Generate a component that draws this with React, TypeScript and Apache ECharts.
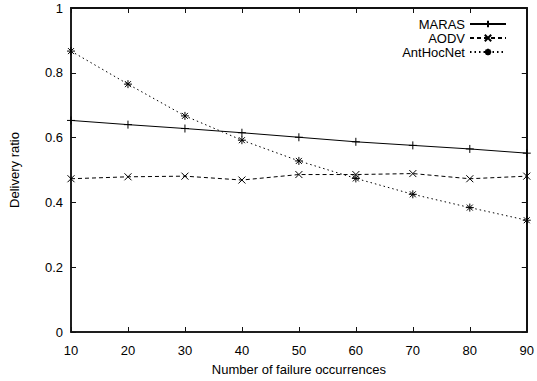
import React, { useEffect, useRef } from "react";
import * as echarts from "echarts";

const xValues = [10, 20, 30, 40, 50, 60, 70, 80, 90];
const marasValues = [0.653, 0.640, 0.628, 0.615, 0.601, 0.587, 0.576, 0.565, 0.552];
const aodvValues = [0.473, 0.479, 0.481, 0.469, 0.486, 0.486, 0.489, 0.473, 0.481];
const antHocNetValues = [0.867, 0.765, 0.667, 0.592, 0.528, 0.474, 0.425, 0.384, 0.345];
const seriesNames = ["MARAS", "AODV", "AntHocNet"];

const FONT = "'Liberation Sans', Arial, Helvetica, sans-serif";

const plusSym = "path://M0,4L8,4M4,0L4,8";
const crossSym = "path://M0,0L8,8M8,0L0,8";
const starSym = "path://M0,4L8,4M4,0L4,8M1,1L7,7M7,1L1,7";

function pairs(vals: number[]) {
  return xValues.map((x, i) => [x, vals[i]]);
}

export default function App() {
  const ref = useRef<HTMLDivElement>(null);
  useEffect(() => {
    if (!ref.current) return;
    const chart = echarts.init(ref.current, undefined, { renderer: "svg" });
    const mk = (name: string, vals: number[], sym: string, type: any, size: number) => ({
      name,
      type: "line",
      xAxisIndex: 0,
      yAxisIndex: 0,
      data: pairs(vals),
      symbol: sym,
      symbolSize: size,
      showSymbol: true,
      lineStyle: { color: "#000", width: 1, type },
      itemStyle: { color: "rgba(0,0,0,0)", borderColor: "#000", borderWidth: 1 },
    });
    chart.setOption({
      animation: false,
      textStyle: { fontFamily: FONT },
      grid: {
        left: 70, right: 9, top: 8, bottom: 45,
        show: true, borderColor: "#111", borderWidth: 1.5,
      },
      legend: {
        orient: "vertical",
        right: 25,
        top: 12,
        align: "right",
        itemWidth: 36,
        itemHeight: 8,
        itemGap: 0,
        data: seriesNames,
        textStyle: { fontFamily: FONT, fontSize: 13, color: "#000", lineHeight: 14 },
      },
      xAxis: [
        {
          type: "value",
          min: 10,
          max: 90,
          interval: 10,
          axisLine: { show: true, onZero: false, lineStyle: { color: "#111", width: 1.5 } },
          axisTick: { show: true, inside: true, length: 5, lineStyle: { color: "#111", width: 1 } },
          splitLine: { show: false },
          axisLabel: { color: "#000", fontSize: 13, fontFamily: FONT, margin: 12 },
          name: "Number of failure occurrences",
          nameLocation: "middle",
          nameGap: 31,
          nameTextStyle: { color: "#000", fontSize: 13, fontFamily: FONT },
        },
        {
          type: "value",
          min: 10,
          max: 90,
          interval: 10,
          position: "top",
          axisLine: { show: true, onZero: false, lineStyle: { color: "#111", width: 2 } },
          axisTick: { show: true, inside: true, length: 5, lineStyle: { color: "#111", width: 1 } },
          splitLine: { show: false },
          axisLabel: { show: false },
        },
      ],
      yAxis: [
        {
          type: "value",
          min: 0,
          max: 1,
          interval: 0.2,
          axisLine: { show: true, onZero: false, lineStyle: { color: "#111", width: 1.5 } },
          axisTick: { show: true, inside: true, length: 5, lineStyle: { color: "#111", width: 1 } },
          splitLine: { show: false },
          axisLabel: { color: "#000", fontSize: 13, fontFamily: FONT, margin: 8 },
          name: "Delivery ratio",
          nameLocation: "middle",
          nameGap: 50,
          nameTextStyle: { color: "#000", fontSize: 13, fontFamily: FONT },
        },
        {
          type: "value",
          min: 0,
          max: 1,
          interval: 0.2,
          position: "right",
          axisLine: { show: true, onZero: false, lineStyle: { color: "#111", width: 2 } },
          axisTick: { show: true, inside: true, length: 5, lineStyle: { color: "#111", width: 1 } },
          splitLine: { show: false },
          axisLabel: { show: false },
        },
      ],
      series: [
        mk(seriesNames[0], marasValues, plusSym, "solid", 8),
        mk(seriesNames[1], aodvValues, crossSym, [4, 3], 7),
        mk(seriesNames[2], antHocNetValues, starSym, [1.5, 3], 8),
      ],
    });
    return () => chart.dispose();
  }, []);
  return (
    <div
      ref={ref}
      style={{ position: "fixed", left: 0, top: 0, width: 537, height: 381, background: "#fff" }}
    />
  );
}
